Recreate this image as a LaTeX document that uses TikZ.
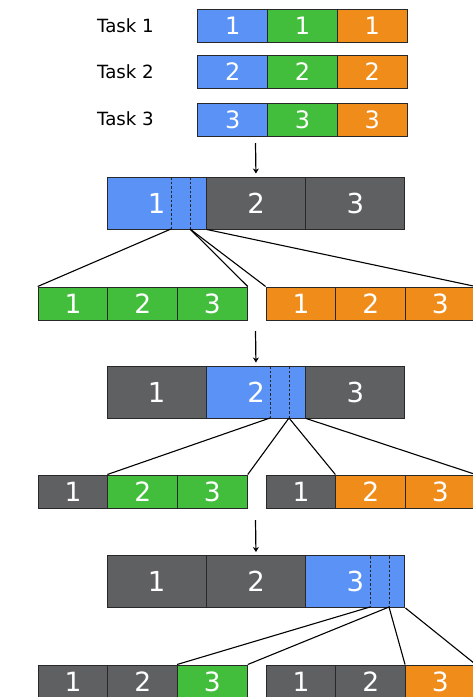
\documentclass[tikz,border=0pt]{standalone}
\usepackage{fontspec}
\setmainfont{DejaVu Sans}
\usetikzlibrary{arrows.meta}
\definecolor{cblue}{RGB}{90,147,245}
\definecolor{cgreen}{RGB}{66,190,60}
\definecolor{corange}{RGB}{240,140,25}
\definecolor{cgray}{RGB}{95,96,97}
\definecolor{cedge}{RGB}{40,40,40}
\tikzset{
  cell/.style={draw=cedge, line width=1pt, inner sep=0pt, text=white, anchor=center},
  topcell/.style={cell, minimum width=69.7pt, minimum height=33pt, font=\fontsize{24}{25}\selectfont},
  bigcell/.style={cell, minimum width=99.3pt, minimum height=52pt, font=\fontsize{27.5}{28}\selectfont},
  smallcell/.style={cell, minimum width=69.7pt, minimum height=33pt, font=\fontsize{26.5}{27}\selectfont},
  tasklbl/.style={font=\fontsize{18.2}{19}\selectfont, inner sep=0pt},
  link/.style={line width=1.1pt, black},
  dashline/.style={line width=1pt, black!85, dash pattern=on 2.5pt off 2pt},
  arr/.style={line width=1.2pt, -{Stealth[length=5pt,width=6pt]}}
}
\begin{document}
\begin{tikzpicture}[x=1pt,y=-1pt]
\useasboundingbox (0,0) rectangle (473,697);
% ---- task rows ----
\node[tasklbl] (t1) at (125.5,25.5) {Task 1};
\node[tasklbl] (t2) at (125.5,71.5) {Task 2};
\node[tasklbl] (t3) at (125.5,118.5) {Task 3};
\foreach \r/\y in {1/25.5,2/71.5,3/119.5}{
  \node[topcell, fill=cblue]   (r\r a) at (232.8,\y) {\r};
  \node[topcell, fill=cgreen]  (r\r b) at (302.5,\y) {\r};
  \node[topcell, fill=corange] (r\r c) at (372.2,\y) {\r};
}
% ---- stage 1 ----
\coordinate (a1) at (255.5,143);
\node[bigcell, fill=cblue] (b11) at (156.7,203) {1};
\node[bigcell, fill=cgray] (b12) at (256,203) {2};
\node[bigcell, fill=cgray] (b13) at (355.3,203) {3};
\draw[arr, shorten >=3pt] (a1) -- (b12.north);
\coordinate (d1at) at (171,177); \coordinate (d1a) at (171,229);
\coordinate (d1bt) at (190,177); \coordinate (d1b) at (190,229);
\draw[dashline] (d1at) -- (d1a);
\draw[dashline] (d1bt) -- (d1b);
\node[smallcell, fill=cgreen]  (g1a) at (73,303.5) {1};
\node[smallcell, fill=cgreen]  (g1b) at (142.7,303.5) {2};
\node[smallcell, fill=cgreen]  (g1c) at (212.4,303.5) {3};
\node[smallcell, fill=corange] (o1a) at (301,303.5) {1};
\node[smallcell, fill=corange] (o1b) at (370.7,303.5) {2};
\node[smallcell, fill=corange] (o1c) at (440.4,303.5) {3};
\draw[link] (d1a) -- (g1a.north west);
\draw[link] (d1b) -- (g1c.north east);
\draw[link] (d1b) -- (o1a.north west);
\draw[link] (b11.south east) -- (o1c.north east);
% ---- stage 2 ----
\coordinate (a2) at (255.5,331);
\node[bigcell, fill=cgray] (b21) at (156.7,392) {1};
\node[bigcell, fill=cblue] (b22) at (256,392) {2};
\node[bigcell, fill=cgray] (b23) at (355.3,392) {3};
\draw[arr, shorten >=3pt] (a2) -- (b22.north);
\coordinate (d2at) at (270,366); \coordinate (d2a) at (270,418);
\coordinate (d2bt) at (289,366); \coordinate (d2b) at (289,418);
\draw[dashline] (d2at) -- (d2a);
\draw[dashline] (d2bt) -- (d2b);
\node[smallcell, fill=cgray]   (g2a) at (73,491.5) {1};
\node[smallcell, fill=cgreen]  (g2b) at (142.7,491.5) {2};
\node[smallcell, fill=cgreen]  (g2c) at (212.4,491.5) {3};
\node[smallcell, fill=cgray]   (o2a) at (301,491.5) {1};
\node[smallcell, fill=corange] (o2b) at (370.7,491.5) {2};
\node[smallcell, fill=corange] (o2c) at (440.4,491.5) {3};
\draw[link] (d2a) -- (g2b.north west);
\draw[link] (d2b) -- (g2c.north east);
\draw[link] (d2b) -- (o2b.north west);
\draw[link] (b22.south east) -- (o2c.north east);
% ---- stage 3 ----
\coordinate (a3) at (255.5,520);
\node[bigcell, fill=cgray] (b31) at (156.7,581.5) {1};
\node[bigcell, fill=cgray] (b32) at (256,581.5) {2};
\node[bigcell, fill=cblue] (b33) at (355.3,581.5) {3};
\draw[arr, shorten >=3pt] (a3) -- (b32.north);
\coordinate (d3at) at (370,556); \coordinate (d3a) at (370,607);
\coordinate (d3bt) at (389,556); \coordinate (d3b) at (389,607);
\draw[dashline] (d3at) -- (d3a);
\draw[dashline] (d3bt) -- (d3b);
\node[smallcell, fill=cgray]   (g3a) at (73,681.5) {1};
\node[smallcell, fill=cgray]   (g3b) at (142.7,681.5) {2};
\node[smallcell, fill=cgreen]  (g3c) at (212.4,681.5) {3};
\node[smallcell, fill=cgray]   (o3a) at (301,681.5) {1};
\node[smallcell, fill=cgray]   (o3b) at (370.7,681.5) {2};
\node[smallcell, fill=corange] (o3c) at (440.4,681.5) {3};
\draw[link] (d3a) -- (g3c.north west);
\draw[link] (d3b) -- (g3c.north east);
\draw[link] (d3b) -- (o3c.north west);
\draw[link] (b33.south east) -- (o3c.north east);
\end{tikzpicture}
\end{document}
